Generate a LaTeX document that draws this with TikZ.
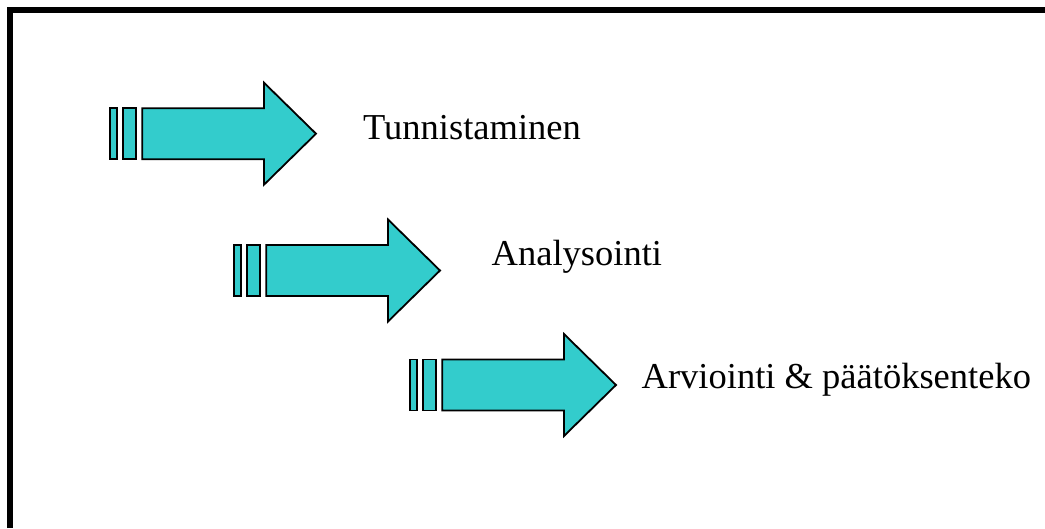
\documentclass[tikz,border=0pt]{standalone}
\usepackage{fontspec}
\setmainfont{Liberation Serif}
\definecolor{arrowteal}{HTML}{33CCCC}
\tikzset{
  arrowpart/.style={draw=black, fill=arrowteal, line width=1.8pt, line join=miter},
  label/.style={anchor=base west, inner sep=0pt, font=\fontsize{36.5}{42}\selectfont},
  frameline/.style={draw=black, line width=6pt},
  stripearrow/.pic={
    \path[arrowpart] (0,-25.5) rectangle (6.7,25.5);
    \path[arrowpart] (13.2,-25.5) rectangle (25.9,25.5);
    \path[arrowpart] (32.3,-25.5) -- (154,-25.5) -- (154,-51) -- (206,0) -- (154,51) -- (154,25.5) -- (32.3,25.5) -- cycle;
  }
}
\begin{document}
\begin{tikzpicture}[x=1pt,y=-1pt]
  \useasboundingbox[fill=white] (0,0) rectangle (1045,528);
  \draw[frameline] (10,528) -- (10,10) -- (1045,10);
  \pic at (110,133.7) {stripearrow};
  \pic at (234,270.5) {stripearrow};
  \pic at (410,385) {stripearrow};
  \node[label] (t1) at (363,139.3) {Tunnistaminen};
  \node[label] (t2) at (491.5,265) {Analysointi};
  \node[label] (t3) at (641.5,388.3) {Arviointi \& päätöksenteko};
\end{tikzpicture}
\end{document}
